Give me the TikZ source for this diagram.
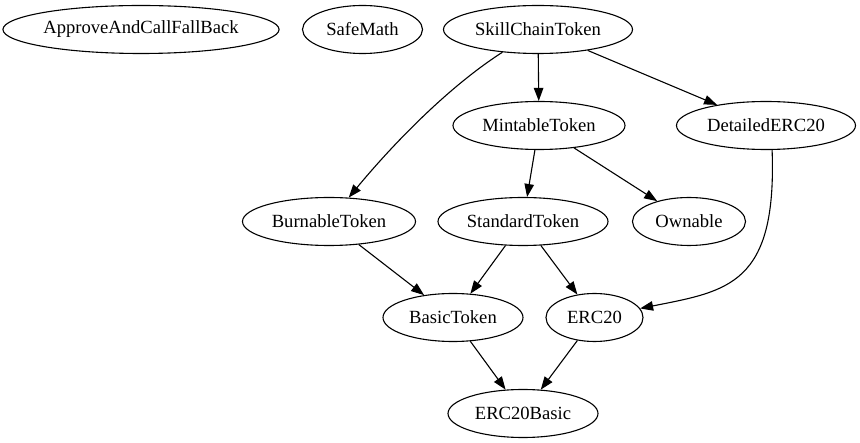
\documentclass[tikz,border=0pt]{standalone}
\usepackage{fontspec}
\setmainfont{Liberation Serif}
\usetikzlibrary{shapes.geometric,arrows.meta}
\begin{document}
\begin{tikzpicture}[x=1pt,y=-1pt,
  nd/.style={draw,ellipse,inner sep=0pt,line width=1.1pt,minimum height=48pt,font=\fontsize{18.6}{21}\selectfont},
  edge/.style={draw,line width=1.1pt,-{Triangle[length=13pt,width=9.5pt]}}]
\useasboundingbox (0,0) rectangle (860,443);
\node[nd,minimum width=276pt] (approve) at (141,29.5) {ApproveAndCallFallBack};
\node[nd,minimum width=120pt] (safe) at (362.5,29.5) {SafeMath};
\node[nd,minimum width=189pt] (skill) at (538,29.5) {SkillChainToken};
\node[nd,minimum width=172pt] (mint) at (539,125.5) {MintableToken};
\node[nd,minimum width=179pt] (det) at (766,125.5) {DetailedERC20};
\node[nd,minimum width=173pt] (burn) at (329,221.5) {BurnableToken};
\node[nd,minimum width=170pt] (std) at (523,221.5) {StandardToken};
\node[nd,minimum width=113pt] (own) at (689,221.5) {Ownable};
\node[nd,minimum width=140pt] (basic) at (453,317.5) {BasicToken};
\node[nd,minimum width=97pt] (erc) at (594.5,317.5) {ERC20};
\node[nd,minimum width=150pt] (ercb) at (523,413.5) {ERC20Basic};
\draw[edge] (skill) -- (mint);
\draw[edge] (skill) -- (det);
\draw[edge] (skill) .. controls (445,89) and (388,150) .. (burn);
\draw[edge] (mint) -- (std);
\draw[edge] (mint) -- (own);
\draw[edge] (det.-76) .. controls (777,285) and (728,291) .. (erc);
\draw[edge] (burn) -- (basic);
\draw[edge] (std) -- (basic);
\draw[edge] (std) -- (erc);
\draw[edge] (basic) -- (ercb);
\draw[edge] (erc) -- (ercb);
\end{tikzpicture}
\end{document}
